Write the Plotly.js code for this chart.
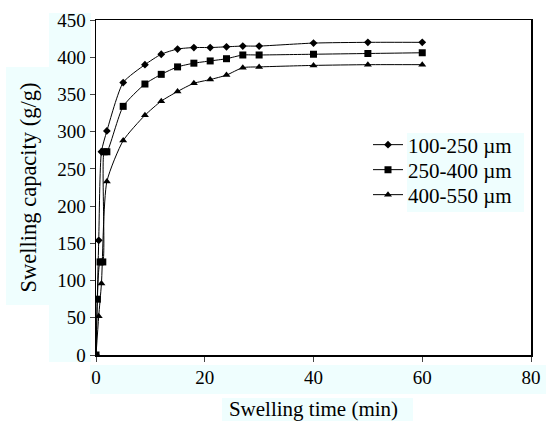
<!DOCTYPE html>
<html>
<head>
<meta charset="utf-8">
<script src="https://cdn.plot.ly/plotly-3.0.1.min.js"></script>
<style>html,body{margin:0;padding:0;background:#fff;}#chart{width:546px;height:421px;}</style>
</head>
<body>
<div id="chart"></div>
<script>
var seriesNames = ['100-250 \u00b5m', '250-400 \u00b5m', '400-550 \u00b5m'];
var timeA = [0, 0.5, 1, 2, 5, 9, 12, 15, 18, 21, 24, 27, 30, 40, 50, 60];
var valuesA = [0, 154, 273, 301, 366, 390, 404, 411, 413, 413, 414, 415, 415, 419, 420, 420];
var timeB = [0, 0.25, 0.75, 1.25, 1.5, 2, 5, 9, 12, 15, 18, 21, 24, 27, 30, 40, 50, 60];
var valuesB = [0, 75, 125, 125, 273, 273, 334, 364, 377, 387, 392, 395, 398, 403, 403, 404, 405, 406];
var timeC = [0, 0.5, 1, 2, 5, 9, 12, 15, 18, 21, 24, 27, 30, 40, 50, 60];
var valuesC = [0, 52, 96, 233, 288, 322, 341, 354, 365, 370, 376, 386, 387, 389, 390, 390];
var xTicks = [0, 20, 40, 60, 80];
var yTicks = [0, 50, 100, 150, 200, 250, 300, 350, 400, 450];

var font = 'Liberation Serif';
function tr(x, y, name, sym, size, leg) {
  return {
    x: x, y: y, name: name, type: 'scatter', mode: 'lines+markers', legend: leg,
    line: {color: '#000', width: 1, shape: 'spline', smoothing: 0.6},
    marker: {symbol: sym, size: size, color: '#000'}
  };
}
var data = [
  tr(timeA, valuesA, seriesNames[0], 'diamond', 6, 'legend'),
  tr(timeB, valuesB, seriesNames[1], 'square', 7, 'legend2'),
  tr(timeC, valuesC, seriesNames[2], 'triangle-up', 7, 'legend3')
];
var cyan = '#effefe';
function rect(x0, y0, x1, y1) {
  return {type: 'rect', xref: 'paper', yref: 'paper', x0: x0, x1: x1, y0: y0, y1: y1,
    fillcolor: cyan, line: {width: 0}, layer: 'below'};
}
var L = 96, R = 531, T = 20, B = 355;
function px(x) { return (x - L) / (R - L); }
function py(y) { return (B - y) / (B - T); }
function leg(yc) {
  return {x: px(368), y: py(yc), xanchor: 'left', yanchor: 'middle', itemwidth: 30,
    bgcolor: 'rgba(0,0,0,0)', font: {family: font, size: 21, color: '#000'}};
}
var layout = {
  width: 546, height: 421,
  margin: {l: L, r: 546 - R, t: T, b: 421 - B},
  paper_bgcolor: '#fff', plot_bgcolor: 'rgba(0,0,0,0)',
  font: {family: font, color: '#000', size: 19},
  showlegend: true,
  legend: leg(145),
  legend2: leg(170),
  legend3: leg(195),
  xaxis: {range: [0, 80], tickvals: xTicks, ticktext: xTicks.map(String), ticks: 'outside', ticklen: 5,
    tickwidth: 1, showline: true, linecolor: '#000', linewidth: 1.5, mirror: true,
    showgrid: false, zeroline: false, tickfont: {family: font, size: 19},
    title: {text: 'Swelling time (min)', font: {family: font, size: 21}, standoff: 16}},
  yaxis: {range: [0, 450], tickvals: yTicks, ticktext: yTicks.map(String), ticks: 'outside', ticklen: 5,
    tickwidth: 1, showline: true, linecolor: '#000', linewidth: 1.5, mirror: true,
    showgrid: false, zeroline: false, tickfont: {family: font, size: 19},
    title: {text: 'Swelling capacity (g/g)', font: {family: font, size: 22.5}, standoff: 14}},
  shapes: [
    rect(px(49), py(362), px(91), py(13)),
    rect(px(6), py(305), px(49), py(67)),
    rect(px(90), py(394), px(546), py(365)),
    rect(px(222), py(421), px(413), py(398)),
    rect(px(407), py(212), px(524), py(133))
  ]
};
Plotly.newPlot('chart', data, layout, {staticPlot: true, displayModeBar: false});
</script>
</body>
</html>
